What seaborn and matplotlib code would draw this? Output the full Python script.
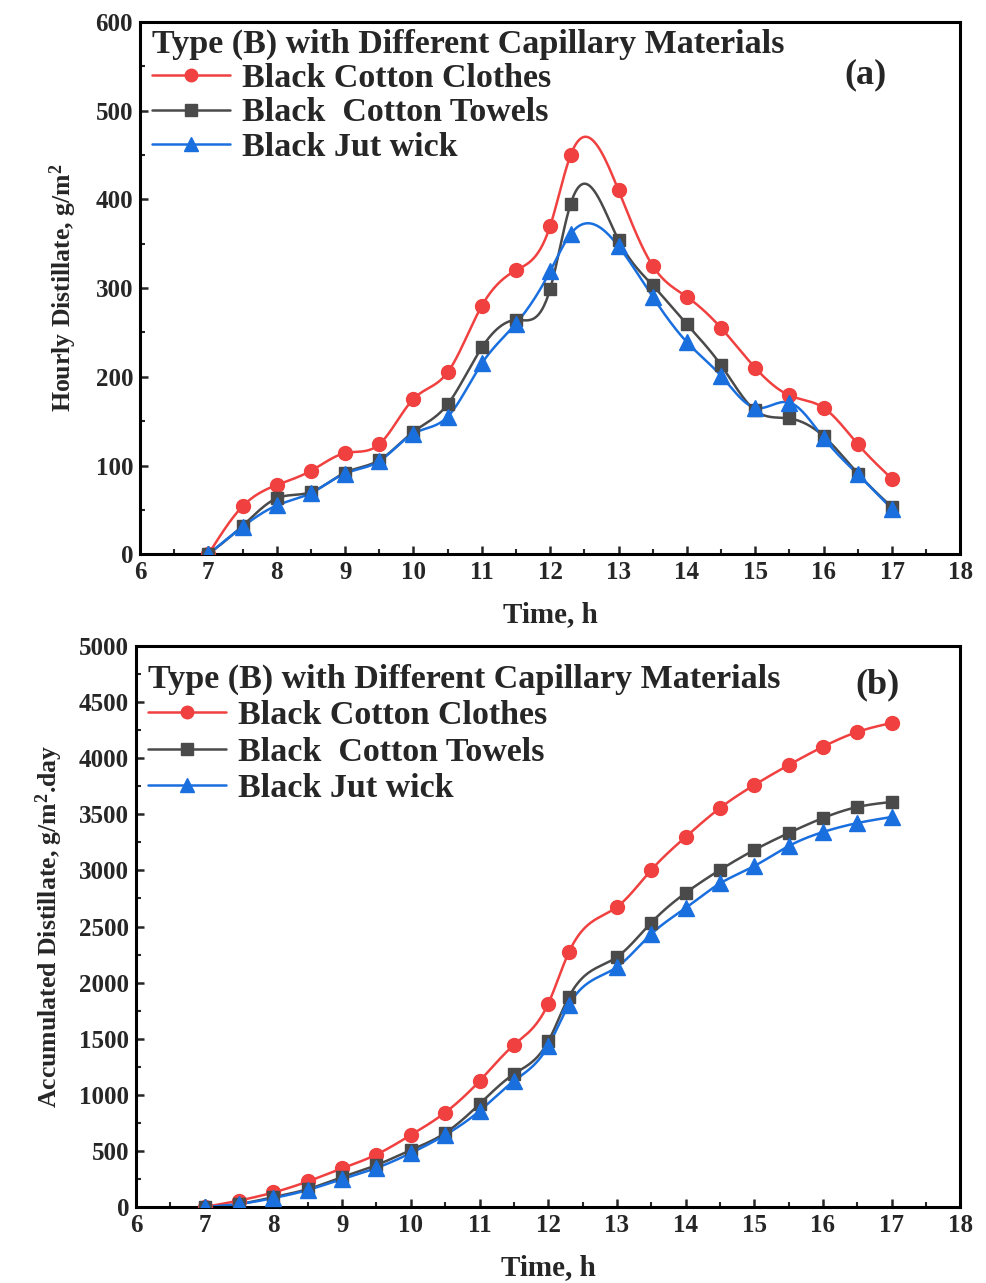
import numpy as np
import pandas as pd
import matplotlib
matplotlib.use("Agg")
import matplotlib.pyplot as plt
from matplotlib.lines import Line2D
import seaborn as sns

# ---------------- data ----------------
time_h = [7, 7.5, 8, 8.5, 9, 9.5, 10, 10.5, 11, 11.5, 12, 12.3,
          13, 13.5, 14, 14.5, 15, 15.5, 16, 16.5, 17]

hourly_clothes = [0, 54, 78, 94, 114, 124, 175, 205, 280, 320, 370, 450,
                  410, 325, 290, 255, 210, 179, 165, 124, 85]
hourly_towels = [0, 32, 63, 70, 92, 106, 138, 169, 233, 264, 299, 395,
                 354, 303, 259, 213, 162, 153, 133, 91, 53]
hourly_jute = [0, 31, 55, 69, 91, 105, 136, 155, 215, 260, 319, 361,
               347, 290, 239, 201, 165, 171, 131, 90, 51]

acc_clothes = [0, 58, 130, 228, 345, 468, 642, 842, 1123, 1444, 1812, 2270,
               2674, 3004, 3298, 3556, 3761, 3939, 4102, 4234, 4314]
acc_towels = [0, 27, 89, 160, 267, 374, 508, 660, 918, 1185, 1476, 1872,
              2228, 2535, 2799, 3004, 3182, 3333, 3467, 3565, 3610]
acc_jute = [0, 27, 80, 152, 249, 348, 481, 642, 856, 1123, 1435, 1800,
            2139, 2433, 2665, 2884, 3039, 3217, 3342, 3422, 3476]

series_names = ["Black Cotton Clothes", "Black  Cotton Towels", "Black Jut wick"]
legend_title = "Type (B) with Different Capillary Materials"
x_ticks = list(range(6, 19))
y_ticks_a = list(range(0, 601, 100))
y_ticks_b = list(range(0, 5001, 500))

colors = ["#F04040", "#4A4A4A", "#1A6FDF"]
markers = ["o", "s", "^"]
msizes = [10, 9, 11]


def natural_spline(x, y, xs):
    x = np.asarray(x, float)
    y = np.asarray(y, float)
    n = len(x)
    h = np.diff(x)
    A = np.zeros((n, n))
    b = np.zeros(n)
    A[0, 0] = 1
    A[-1, -1] = 1
    for i in range(1, n - 1):
        A[i, i - 1] = h[i - 1]
        A[i, i] = 2 * (h[i - 1] + h[i])
        A[i, i + 1] = h[i]
        b[i] = 6 * ((y[i + 1] - y[i]) / h[i] - (y[i] - y[i - 1]) / h[i - 1])
    M = np.linalg.solve(A, b)
    idx = np.clip(np.searchsorted(x, xs) - 1, 0, n - 2)
    x0, x1 = x[idx], x[idx + 1]
    hh = x1 - x0
    t0 = x1 - xs
    t1 = xs - x0
    return (M[idx] * t0 ** 3 / (6 * hh) + M[idx + 1] * t1 ** 3 / (6 * hh)
            + (y[idx] / hh - M[idx] * hh / 6) * t0
            + (y[idx + 1] / hh - M[idx + 1] * hh / 6) * t1)


sns.set_theme(style="white")
plt.rcParams["font.family"] = ["Liberation Serif", "DejaVu Serif"]
plt.rcParams["font.weight"] = "bold"
plt.rcParams["mathtext.fontset"] = "custom"
plt.rcParams["mathtext.rm"] = "Liberation Serif:bold"
plt.rcParams["mathtext.it"] = "Liberation Serif:bold"
plt.rcParams["mathtext.bf"] = "Liberation Serif:bold"

fig = plt.figure(figsize=(9.86, 12.83), dpi=100)
ax_a = fig.add_axes([0.142, 0.568, 0.832, 0.415])
ax_b = fig.add_axes([0.138, 0.0592, 0.836, 0.4373])


def draw_panel(ax, ys, ylim, yticks, ylabel, tag, tag_xy, ylabelpad, xlabelpad,
               leg_anchor, leg_spacing):
    xs = np.linspace(time_h[0], time_h[-1], 600)
    handles = []
    for name, yv, c, m, ms in zip(series_names, ys, colors, markers, msizes):
        smooth = pd.DataFrame({"t": xs, "v": natural_spline(time_h, yv, xs)})
        sns.lineplot(data=smooth, x="t", y="v", ax=ax, color=c, lw=1.8,
                     legend=False, zorder=2)
        pts = pd.DataFrame({"t": time_h, "v": yv})
        ax.plot(pts["t"], pts["v"], ls="none", marker=m, ms=ms, color=c,
                mec=c, zorder=3)
        handles.append(Line2D([], [], color=c, lw=1.8, marker=m, ms=ms - 1, mec=c))
    ax.set_xlim(6, 18)
    ax.set_ylim(*ylim)
    ax.set_xticks(x_ticks)
    ax.set_yticks(yticks)
    ax.set_xticks(np.arange(6.5, 18, 1), minor=True)
    step = yticks[1] - yticks[0]
    ax.set_yticks(np.arange(yticks[0] + step / 2, ylim[1], step), minor=True)
    ax.tick_params(which="major", direction="in", length=6, width=1.8,
                   labelsize=18, pad=5, bottom=True, left=True)
    ax.tick_params(which="minor", direction="in", length=3.5, width=1.5,
                   bottom=True, left=True)
    for lab in ax.get_xticklabels() + ax.get_yticklabels():
        lab.set_fontweight("bold")
    for sp in ax.spines.values():
        sp.set_linewidth(2.2)
        sp.set_color("black")
    ax.set_xlabel("Time, h", fontsize=21, fontweight="bold", labelpad=xlabelpad)
    ax.set_ylabel(ylabel, fontsize=18.5, fontweight="bold", labelpad=ylabelpad)
    leg = ax.legend(handles, series_names, title=legend_title, loc="upper left",
                    bbox_to_anchor=leg_anchor,
                    frameon=False, fontsize=24.5, handlelength=2.3,
                    handletextpad=0.35, labelspacing=leg_spacing,
                    borderpad=0.05, borderaxespad=0.3, alignment="left",
                    title_fontproperties={"size": 24.5, "weight": "bold"})
    for t in leg.get_texts():
        t.set_fontweight("bold")
    ax.text(tag_xy[0], tag_xy[1], tag, transform=ax.transAxes, fontsize=26,
            fontweight="bold", ha="center", va="center")


draw_panel(ax_a, [hourly_clothes, hourly_towels, hourly_jute], (0, 600),
           y_ticks_a, "Hourly Distillate, g/m$^\\mathbf{2}$", "(a)", (0.884, 0.9),
           12, 12, (0.0, 1.01), 0.1)
draw_panel(ax_b, [acc_clothes, acc_towels, acc_jute], (0, 5000),
           y_ticks_b, "Accumulated Distillate, g/m$^\\mathbf{2}$.day", "(b)", (0.9, 0.93),
           10, 12, (0.0, 0.99), 0.16)

fig.savefig("out.png", dpi=100)
